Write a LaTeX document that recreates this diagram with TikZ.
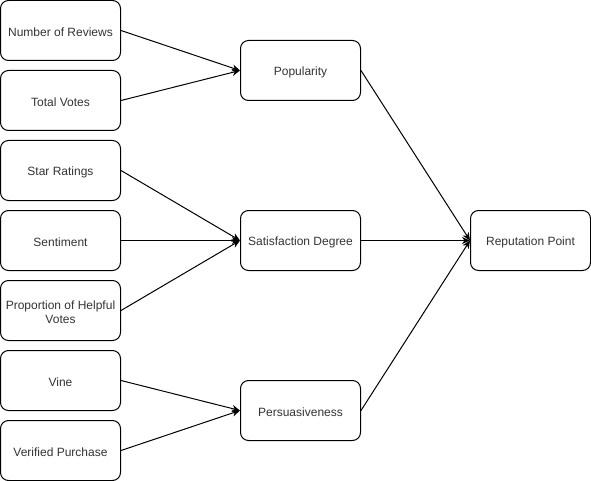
\documentclass[tikz,border=0pt]{standalone}
\usepackage{fontspec}
\setmainfont{Liberation Sans}
\usetikzlibrary{arrows.meta}
\begin{document}
\begin{tikzpicture}[x=1pt,y=-1pt,
  box/.style={draw, line width=1pt, rounded corners=8pt, minimum width=120pt, minimum height=60pt, inner sep=0pt},
  lbl/.style={font=\fontsize{12}{14}\selectfont, align=center, text=black!80, yshift=-1.5pt, inner sep=0pt},
  arr/.style={draw, line width=1pt, -{Stealth[length=8pt,width=7pt,inset=2.5pt]}}]
\useasboundingbox (0,0) rectangle (591,481);
\node[box, label={[lbl]center:Number of Reviews}] (nr) at (60.5,30.5) {};
\node[box, label={[lbl]center:Total Votes}] (tv) at (60.5,100.5) {};
\node[box, label={[lbl]center:Star Ratings}] (sr) at (60.5,170.5) {};
\node[box, label={[lbl]center:Sentiment}] (se) at (60.5,240.5) {};
\node[box, label={[lbl]center:{Proportion of Helpful\\Votes}}] (ph) at (60.5,310.5) {};
\node[box, label={[lbl]center:Vine}] (vi) at (60.5,380.5) {};
\node[box, label={[lbl]center:Verified Purchase}] (vp) at (60.5,450.5) {};
\node[box, label={[lbl]center:Popularity}] (po) at (300.5,70.5) {};
\node[box, label={[lbl]center:Satisfaction Degree}] (sd) at (300.5,240.5) {};
\node[box, label={[lbl]center:Persuasiveness}] (pe) at (300.5,410.5) {};
\node[box, label={[lbl]center:Reputation Point}] (rp) at (530.5,240.5) {};
\draw[arr] (nr.east) -- (po.west);
\draw[arr] (tv.east) -- (po.west);
\draw[arr] (sr.east) -- (sd.west);
\draw[arr] (se.east) -- (sd.west);
\draw[arr] (ph.east) -- (sd.west);
\draw[arr] (vi.east) -- (pe.west);
\draw[arr] (vp.east) -- (pe.west);
\draw[arr] (po.east) -- (rp.west);
\draw[arr] (sd.east) -- (rp.west);
\draw[arr] (pe.east) -- (rp.west);
\end{tikzpicture}
\end{document}
